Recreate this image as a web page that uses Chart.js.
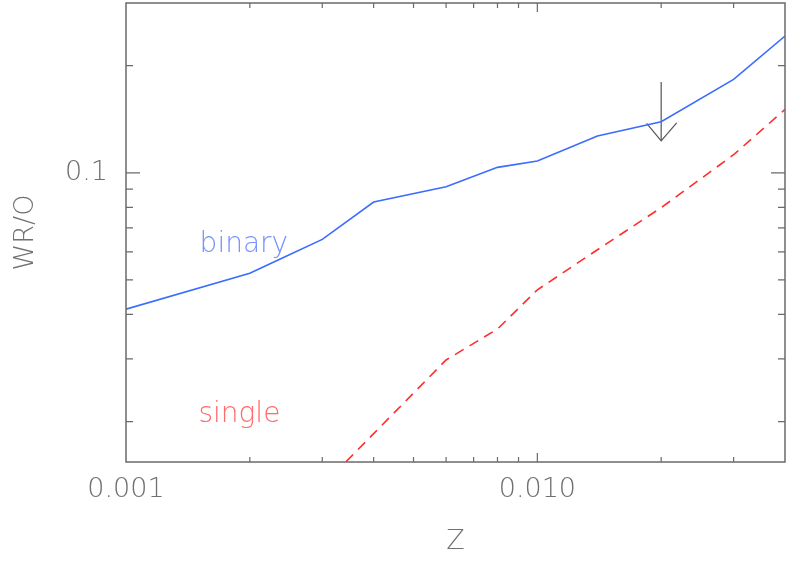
<!DOCTYPE html>
<html>
<head>
<meta charset="utf-8">
<script src="https://cdn.jsdelivr.net/npm/chart.js@4"></script>
<style>
  html, body { margin: 0; padding: 0; background: #fff; }
  #wrap { width: 789px; height: 564px; }
</style>
</head>
<body>
<div id="wrap"><canvas id="chart" width="789" height="564"></canvas></div>
<script>
(() => {
  // ---- data ----
  const zBinary = [0.001, 0.002, 0.0024, 0.003, 0.004, 0.006, 0.008, 0.01, 0.014, 0.02, 0.03, 0.04];
  const binaryRatio = [0.0414, 0.0522, 0.0576, 0.0650, 0.0828, 0.0914, 0.1036, 0.1079, 0.1269, 0.1392, 0.183, 0.2423];

  const zSingle = [0.003, 0.004, 0.006, 0.008, 0.01, 0.014, 0.02, 0.03, 0.04];
  const singleRatio = [0.0132, 0.0185, 0.0298, 0.0364, 0.0469, 0.0608, 0.0798, 0.1124, 0.1507];

  // upper-limit arrow at solar Z
  const arrowZ = [0.02, 0.02];
  const arrowRatio = [0.18, 0.123];
  const arrowHeadZ = [0.01844, 0.02, 0.02181];
  const arrowHeadRatio = [0.1377, 0.123, 0.1382];

  // axes
  const xRange = [0.001, 0.04];
  const yRange = [0.0154, 0.3];
  const xTickLabels = [0.001, 0.01];
  const yTickLabels = [0.1];
  const xMajor = [0.01];
  const xMinor = [0.002, 0.003, 0.004, 0.005, 0.006, 0.007, 0.008, 0.009, 0.02, 0.03];
  const yMajor = [0.1];
  const yMinor = [0.02, 0.03, 0.04, 0.05, 0.06, 0.07, 0.08, 0.09, 0.2];

  // text labels inside the plot
  const seriesLabels = [
    { text: "binary", z: 0.00151, r: 0.0599, color: "#7592ff" },
    { text: "single", z: 0.0015, r: 0.02, color: "#ff6a6a" },
  ];

  const FONT = "'DejaVu Sans', sans-serif";
  const AXIS = "#6a6a6a";
  const TEXT = "#707070";
  const pts = (xs, ys) => xs.map((x, i) => ({ x, y: ys[i] }));

  // box + inward ticks on all four sides, labels in the plot
  const frame = {
    id: "frame",
    afterDatasetsDraw(chart) {
      const { ctx, chartArea: a, scales: { x, y } } = chart;
      ctx.save();
      ctx.strokeStyle = AXIS;
      ctx.lineWidth = 1.5;
      ctx.strokeRect(a.left, a.top, a.right - a.left, a.bottom - a.top);
      ctx.lineWidth = 1.2;
      ctx.beginPath();
      const xt = (v, len) => {
        const px = x.getPixelForValue(v);
        ctx.moveTo(px, a.bottom); ctx.lineTo(px, a.bottom - len);
        ctx.moveTo(px, a.top); ctx.lineTo(px, a.top + len);
      };
      const yt = (v, len) => {
        const py = y.getPixelForValue(v);
        ctx.moveTo(a.left, py); ctx.lineTo(a.left + len, py);
        ctx.moveTo(a.right, py); ctx.lineTo(a.right - len, py);
      };
      xMajor.forEach(v => xt(v, 9));
      xMinor.forEach(v => xt(v, 5));
      yMajor.forEach(v => yt(v, 14));
      yMinor.forEach(v => yt(v, 7));
      ctx.stroke();

      ctx.font = `200 28px ${FONT}`;
      ctx.textBaseline = "alphabetic";
      ctx.textAlign = "left";
      for (const l of seriesLabels) {
        ctx.fillStyle = l.color;
        ctx.fillText(l.text, x.getPixelForValue(l.z), y.getPixelForValue(l.r));
      }
      ctx.restore();
    },
  };

  new Chart(document.getElementById("chart"), {
    type: "line",
    data: {
      datasets: [
        {
          data: pts(zBinary, binaryRatio),
          borderColor: "#3a6cff",
          borderWidth: 1.6,
          pointRadius: 0,
          tension: 0,
        },
        {
          data: pts(zSingle, singleRatio),
          borderColor: "#ff2d2d",
          borderWidth: 1.6,
          borderDash: [10, 7],
          pointRadius: 0,
          tension: 0,
        },
        {
          data: pts(arrowZ, arrowRatio),
          borderColor: "#555",
          borderWidth: 1.2,
          pointRadius: 0,
        },
        {
          data: pts(arrowHeadZ, arrowHeadRatio),
          borderColor: "#555",
          borderWidth: 1.2,
          pointRadius: 0,
        },
      ],
    },
    options: {
      responsive: false,
      animation: false,
      events: [],
      layout: { padding: { top: 3, right: 4, left: 0, bottom: 0 } },
      plugins: { legend: { display: false }, tooltip: { enabled: false } },
      scales: {
        x: {
          type: "logarithmic",
          min: xRange[0],
          max: xRange[1],
          grid: { display: false, drawTicks: false },
          border: { display: false },
          afterBuildTicks: (s) => { s.ticks = xTickLabels.map(v => ({ value: v })); },
          afterFit: (s) => { s.height = 102; s.paddingLeft = 0; s.paddingRight = 0; },
          ticks: {
            autoSkip: false,
            maxRotation: 0,
            padding: 12,
            color: TEXT,
            font: { family: FONT, size: 27, weight: 200 },
            callback: (v) => Number(v).toFixed(3),
          },
          title: {
            display: true,
            text: "Z",
            color: TEXT,
            padding: { top: 0, bottom: 6 },
            font: { family: FONT, size: 27, weight: 200 },
          },
        },
        y: {
          type: "logarithmic",
          min: yRange[0],
          max: yRange[1],
          grid: { display: false, drawTicks: false },
          border: { display: false },
          afterBuildTicks: (s) => { s.ticks = yTickLabels.map(v => ({ value: v })); },
          afterFit: (s) => { s.width = 126; s.paddingTop = 0; s.paddingBottom = 0; },
          ticks: {
            autoSkip: false,
            padding: 18,
            color: TEXT,
            font: { family: FONT, size: 27, weight: 200 },
            callback: (v) => String(v),
          },
          title: {
            display: true,
            text: "WR/O",
            color: TEXT,
            padding: { top: 10, bottom: 0 },
            font: { family: FONT, size: 27, weight: 200 },
          },
        },
      },
    },
    plugins: [frame],
  });
})();
</script>
</body>
</html>
